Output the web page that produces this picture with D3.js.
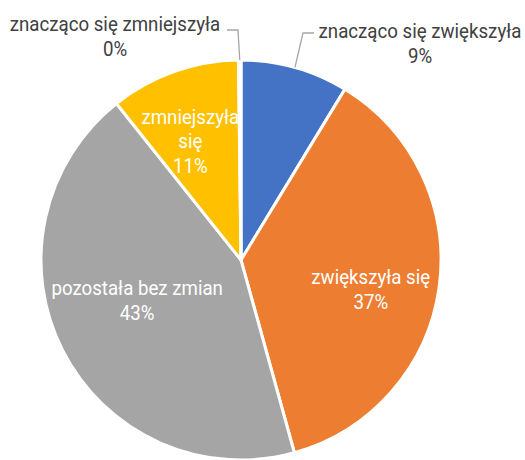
<!DOCTYPE html>
<html lang="pl">
<head>
    <meta charset="UTF-8">
    <title>Pie</title>
    <style>
        body { margin: 0; background: #fff; }
        text { font-family: Roboto, sans-serif; font-size: 21px; }
        .leader { fill: none; stroke: #a6a6a6; stroke-width: 1.3px; }
    </style>
</head>
<body>
<script src="https://d3js.org/d3.v7.min.js"></script>
<script>

    const width = 525;
    const height = 460;
    const radius = 200;

    // data, clockwise from 12 o'clock
    const categories = ['znacząco się zwiększyła', 'zwiększyła się', 'pozostała bez zmian', 'zmniejszyła się', 'znacząco się zmniejszyła'];
    const values = [8.7, 37.0, 43.6, 10.5, 0.2];
    const percentLabels = ['9%', '37%', '43%', '11%', '0%'];
    const colors = ['#4472c4', '#ed7d31', '#a5a5a5', '#ffc000', '#5b9bd5'];

    // label layout: line breaks, where the label sits
    // inside: centroid at a fraction of the radius plus a nudge; outside: text centre and leader bend
    const labelLines = [
        ['znacząco się zwiększyła', '9%'],
        ['zwiększyła się', '37%'],
        ['pozostała bez zmian', '43%'],
        ['zmniejszyła', 'się', '11%'],
        ['znacząco się zmniejszyła', '0%']
    ];
    const labelLayout = [
        {outside: true, x: 420, y: 31, bend: [303, 33], start: 0.5},
        {outside: false, r: 0.65, dx: 1, dy: -1},
        {outside: false, r: 0.65, dx: 12, dy: -31},
        {outside: false, r: 0.65, dx: -7, dy: -21},
        {outside: true, x: 115, y: 24, bend: [238, 30], start: 0.5}
    ];

    const cx = 241, cy = 260;
    const squeeze = 0.89;
    const lineH = 24.5;

    let svg = d3.select('body').append('svg')
        .attr('width', width)
        .attr('height', height);

    let g = svg.append('g')
        .attr('transform', 'translate(' + cx + ',' + cy + ')');

    let pie = d3.pie().sort(null).value(d => d);
    let arcs = pie(values);

    let arc = d3.arc().innerRadius(0).outerRadius(radius);

    g.selectAll('path.slice')
        .data(arcs)
        .enter().append('path')
        .attr('class', 'slice')
        .attr('d', arc)
        .attr('fill', (d, i) => colors[i])
        .attr('stroke', '#fff')
        .attr('stroke-width', 3)
        .attr('stroke-linejoin', 'round');

    arcs.forEach(function (d, i) {
        let lay = labelLayout[i];
        let lines = labelLines[i];
        let x, y, fill;
        if (lay.outside) {
            x = lay.x - cx;
            y = lay.y - cy;
            fill = '#404040';
            // leader from the slice edge to the label
            let a = d.startAngle + (d.endAngle - d.startAngle) * lay.start;
            let p0 = [Math.sin(a) * radius, -Math.cos(a) * radius];
            let bend = [lay.bend[0] - cx, lay.bend[1] - cy];
            let end = [x > bend[0] ? bend[0] + 11 : bend[0] - 11, bend[1]];
            g.append('path')
                .attr('class', 'leader')
                .attr('d', d3.line()([p0, bend, end]));
        } else {
            let c = d3.arc().innerRadius(0).outerRadius(radius * lay.r * 2).centroid(d);
            x = c[0] + lay.dx;
            y = c[1] + lay.dy;
            fill = '#fff';
        }
        let t = g.append('text')
            .attr('transform', 'translate(' + x + ',' + y + ') scale(' + squeeze + ',1)')
            .attr('text-anchor', 'middle')
            .attr('fill', fill);
        lines.forEach(function (s, j) {
            t.append('tspan')
                .attr('x', 0)
                .attr('y', j * lineH)
                .attr('dy', '0.35em')
                .text(s);
        });
    });

</script>
</body>
</html>
